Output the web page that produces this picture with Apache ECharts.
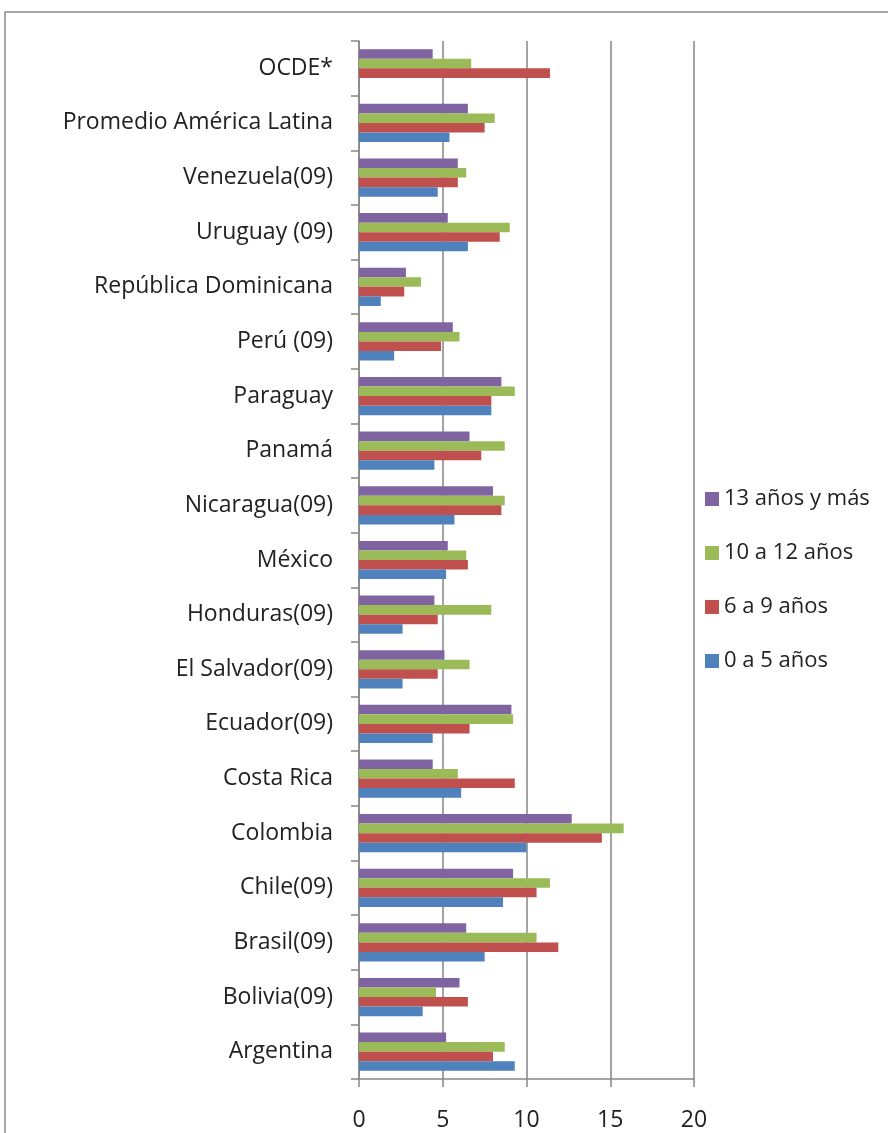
<!DOCTYPE html>
<html>
<head>
<meta charset="utf-8">
<script src="https://cdn.jsdelivr.net/npm/echarts@6/dist/echarts.min.js"></script>
<style>
  html, body { margin: 0; padding: 0; background: #ffffff; }
  #chart { width: 888px; height: 1133px; }
</style>
</head>
<body>
<div id="chart"></div>
<script>
// Countries, bottom to top
const categories = [
  'Argentina', 'Bolivia(09)', 'Brasil(09)', 'Chile(09)', 'Colombia', 'Costa Rica',
  'Ecuador(09)', 'El Salvador(09)', 'Honduras(09)', 'México', 'Nicaragua(09)',
  'Panamá', 'Paraguay', 'Perú (09)', 'República Dominicana', 'Uruguay (09)',
  'Venezuela(09)', 'Promedio América Latina', 'OCDE*'
];

// Age groups
const seriesNames = ['0 a 5 años', '6 a 9 años', '10 a 12 años', '13 años y más'];

const age0to5 = [9.3, 3.8, 7.5, 8.6, 10.0, 6.1, 4.4, 2.6, 2.6, 5.2, 5.7, 4.5, 7.9, 2.1, 1.3, 6.5, 4.7, 5.4, null];
const age6to9 = [8.0, 6.5, 11.9, 10.6, 14.5, 9.3, 6.6, 4.7, 4.7, 6.5, 8.5, 7.3, 7.9, 4.9, 2.7, 8.4, 5.9, 7.5, 11.4];
const age10to12 = [8.7, 4.6, 10.6, 11.4, 15.8, 5.9, 9.2, 6.6, 7.9, 6.4, 8.7, 8.7, 9.3, 6.0, 3.7, 9.0, 6.4, 8.1, 6.7];
const age13plus = [5.2, 6.0, 6.4, 9.2, 12.7, 4.4, 9.1, 5.1, 4.5, 5.3, 8.0, 6.6, 8.5, 5.6, 2.8, 5.3, 5.9, 6.5, 4.4];

const xTicks = [0, 5, 10, 15, 20];

const colors = ['#4F81BD', '#C0504D', '#9BBB59', '#8064A2'];
const values = [age0to5, age6to9, age10to12, age13plus];

const chart = echarts.init(document.getElementById('chart'));

// Horizontal bars stack top-down in series order, so the oldest group goes first
const series = seriesNames.map((name, i) => ({
  name: name,
  type: 'bar',
  data: values[i],
  barGap: '0%',
  barCategoryGap: '30%',
  itemStyle: { color: colors[i] },
  emphasis: { disabled: true }
})).reverse();

chart.setOption({
  animation: false,
  textStyle: { fontFamily: 'Open Sans' },
  graphic: [{
    type: 'rect',
    shape: { x: 5, y: 12, width: 900, height: 1200 },
    style: { fill: 'none', stroke: '#8a8a8a', lineWidth: 1.5 },
    silent: true
  }],
  grid: { left: 359, right: 194, top: 41, bottom: 54 },
  legend: {
    orient: 'vertical',
    left: 700,
    top: 483,
    data: seriesNames.slice().reverse(),
    itemWidth: 14,
    itemHeight: 14,
    itemGap: 32,
    icon: 'rect',
    textStyle: { fontSize: 22, color: '#222', fontFamily: 'Open Sans' }
  },
  xAxis: {
    type: 'value',
    min: xTicks[0],
    max: xTicks[xTicks.length - 1],
    interval: 5,
    axisLine: { show: true, lineStyle: { color: '#868686', width: 1.5 } },
    axisTick: { show: true, length: 8, lineStyle: { color: '#868686', width: 1.5 } },
    axisLabel: { fontSize: 23, color: '#222', margin: 30 },
    splitLine: { show: true, lineStyle: { color: '#868686', width: 1.5 } }
  },
  yAxis: {
    type: 'category',
    data: categories,
    axisLine: { show: true, lineStyle: { color: '#868686', width: 1.5 } },
    axisTick: { show: true, length: 8, lineStyle: { color: '#868686', width: 1.5 } },
    axisLabel: { fontSize: 23, color: '#222', margin: 26 }
  },
  series: series
});
</script>
</body>
</html>
